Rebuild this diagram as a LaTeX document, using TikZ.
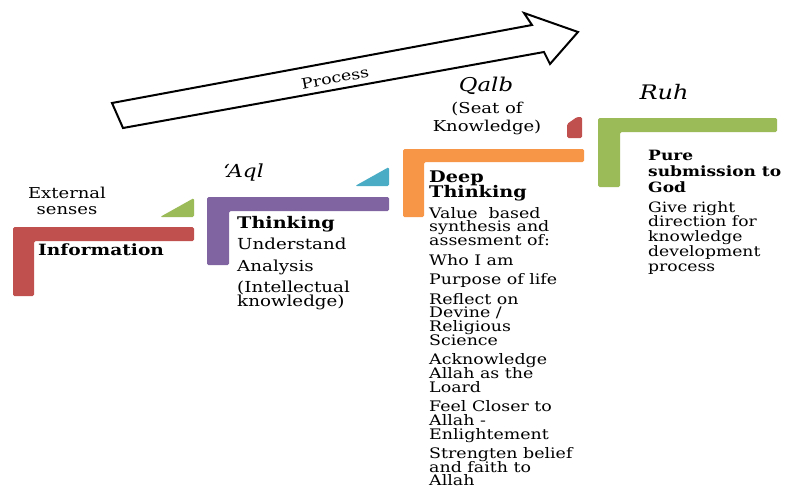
\documentclass[tikz,border=0pt]{standalone}
\usepackage{fontspec}
\setmainfont{DejaVu Serif}
\usetikzlibrary{positioning}
\definecolor{senseRed}{HTML}{C0504D}
\definecolor{aqlPurple}{HTML}{8064A2}
\definecolor{qalbOrange}{HTML}{F79646}
\definecolor{ruhGreen}{HTML}{9BBB59}
\definecolor{markTeal}{HTML}{4BACC6}
\setlength{\lineskiplimit}{-20pt}

\begin{document}
\begin{tikzpicture}[x=1pt, y=-1pt, rounded corners=1.5pt, inner sep=0pt]
\tikzstyle{wide}=[xscale=1.2]
\tikzstyle{txt}=[wide, align=left, anchor=north west]
\tikzstyle{soul}=[wide, font=\fontsize{19}{19}\selectfont\itshape]
\useasboundingbox (0,0) rectangle (789,488);
% process arrow
\draw[line width=2pt, sharp corners, fill=white] (112,103) -- (532,25) -- (524,13) -- (578,32) -- (550,64) -- (544,52) -- (123,128) -- cycle;
\node[rotate=10.6, xscale=1.2, font=\fontsize{14.5}{14.5}\selectfont] (process) at (335,78) {Process};
% steps
\fill[senseRed] (13,227) -- (194,227) -- (194,241) -- (34,241) -- (34,296) -- (13,296) -- cycle;
\fill[aqlPurple] (207,197) -- (389,197) -- (389,211) -- (229,211) -- (229,265) -- (207,265) -- cycle;
\fill[qalbOrange] (403,149) -- (584,149) -- (584,162) -- (424,162) -- (424,217) -- (403,217) -- cycle;
\fill[ruhGreen] (598,118) -- (777,118) -- (777,132) -- (620,132) -- (620,187) -- (598,187) -- cycle;
% corner marks
\fill[ruhGreen] (160,217) -- (194,198) -- (194,217) -- cycle;
\fill[markTeal] (355,186) -- (389,167) -- (389,186) -- cycle;
\fill[senseRed] (567,138) -- (567,124) -- (577,117) -- (582,117) -- (582,138) -- cycle;
% labels
\node[wide, align=center, anchor=north, font=\fontsize{15}{16}\selectfont] (senses) at (67,187) {External\\senses};
\node[wide, anchor=west, font=\fontsize{15.5}{15.5}\selectfont\bfseries] (info) at (38,250) {Information};
\node[soul, anchor=west, font=\fontsize{18}{18}\selectfont\itshape] (aql) at (223,173) {‘Aql};
\node[txt, font=\fontsize{15.2}{12.5}\selectfont] (think) at (237,216) {\fontsize{16}{12.5}\selectfont\bfseries Thinking\\[8.5pt]
  Understand\\[9.5pt] Analysis\\[9pt] (Intellectual\\[1.5pt]knowledge)};
\node[soul] (qalb) at (486,86) {Qalb};
\node[wide, align=center, anchor=north, font=\fontsize{15}{18}\selectfont] (seat) at (487,101.5) {(Seat of\\Knowledge)};
\node[txt, font=\fontsize{16}{15}\selectfont\bfseries] (deep) at (429,170.5) {Deep\\Thinking};
\node[txt, font=\fontsize{14.5}{13.7}\selectfont] (values) at (429,207) {Value\ \ based\\synthesis and\\assesment of:\\[5.8pt]
  Who I am\\[5.8pt]
  Purpose of life\\[5.8pt]
  Reflect on\\Devine /\\Religious\\Science\\[5.8pt]
  Acknowledge\\Allah as the\\Loard\\[5.8pt]
  Feel Closer to\\Allah -\\Enlightement\\[5.8pt]
  Strengten belief\\and faith to\\Allah};
\node[soul, font=\fontsize{20}{20}\selectfont\itshape] (ruh) at (664,92) {Ruh};
\node[txt, font=\fontsize{14.2}{16}\selectfont\bfseries] (pure) at (648,150) {Pure\\submission to\\God};
\node[txt, font=\fontsize{14.3}{14.8}\selectfont] (give) at (648,201) {Give right\\direction for\\knowledge\\development\\process};
\end{tikzpicture}
\end{document}
